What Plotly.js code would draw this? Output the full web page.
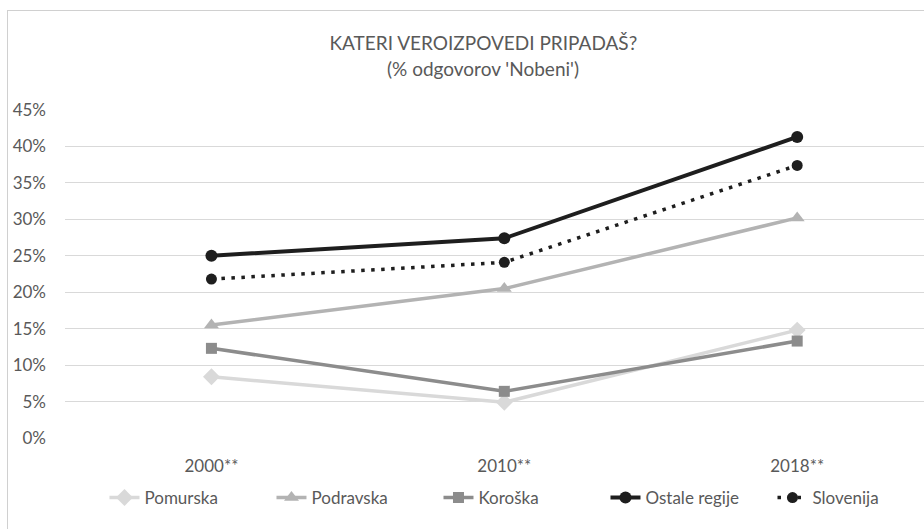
<!DOCTYPE html>
<html>
<head>
<meta charset="utf-8">
<script src="https://cdn.plot.ly/plotly-3.0.1.min.js"></script>
<style>
html,body{margin:0;padding:0;background:#fff;overflow:hidden;}
#wrap{position:relative;width:924px;height:529px;}
#chart{width:924px;height:529px;}
#frame{position:absolute;left:7px;top:10px;right:-10px;bottom:-10px;border-left:1px solid #d0d0d0;border-top:1px solid #d0d0d0;pointer-events:none;}
</style>
</head>
<body>
<div id="wrap"><div id="chart"></div><div id="frame"></div></div>
<script>
const years = ['2000**', '2010**', '2018**'];
const pomurska = [0.084, 0.049, 0.148];
const podravska = [0.155, 0.205, 0.302];
const koroska = [0.123, 0.064, 0.133];
const ostale = [0.250, 0.274, 0.413];
const slovenija = [0.218, 0.241, 0.374];
const seriesNames = ['Pomurska', 'Podravska', 'Koroška', 'Ostale regije', 'Slovenija'];
const titleLine1 = 'KATERI VEROIZPOVEDI PRIPADAŠ?';
const titleLine2 = '(% odgovorov \'Nobeni\')';

const FONT = 'Lato, "Liberation Sans", sans-serif';
const TXT = '#595959';

const traces = [
  {x: years, y: pomurska, name: seriesNames[0], mode: 'lines+markers',
   line: {color: '#d9d9d9', width: 3.5}, marker: {symbol: 'diamond', size: 13, color: '#d9d9d9'}},
  {x: years, y: podravska, name: seriesNames[1], mode: 'lines+markers',
   line: {color: '#b3b3b3', width: 3.5}, marker: {symbol: 'triangle-up', size: 13, color: '#b3b3b3'}},
  {x: years, y: koroska, name: seriesNames[2], mode: 'lines+markers',
   line: {color: '#8c8c8c', width: 3.5}, marker: {symbol: 'square', size: 11, color: '#8c8c8c'}},
  {x: years, y: ostale, name: seriesNames[3], mode: 'lines+markers',
   line: {color: '#1e1e1e', width: 4}, marker: {symbol: 'circle', size: 12, color: '#1e1e1e'}},
  {x: years, y: slovenija, name: seriesNames[4], mode: 'lines+markers',
   line: {color: '#1e1e1e', width: 3.5, dash: '3.5px,6.5px'}, marker: {symbol: 'circle', size: 11, color: '#1e1e1e'}}
];

const layout = {
  width: 924, height: 529,
  margin: {l: 64.5, r: 0, t: 110, b: 91, pad: 0, autoexpand: false},
  paper_bgcolor: '#fff', plot_bgcolor: '#fff',
  font: {family: FONT, color: TXT, size: 17},
  title: {text: titleLine1,
          font: {family: FONT, size: 19, color: TXT},
          x: 0.487, xref: 'paper', xanchor: 'center',
          y: 1 - 43/529, yref: 'container', yanchor: 'middle'},
  annotations: [{text: titleLine2, xref: 'paper', yref: 'paper', x: 0.487, y: (438 - 68) / 328,
                 xanchor: 'center', yanchor: 'middle', showarrow: false,
                 font: {family: FONT, size: 19, color: TXT}}],
  xaxis: {type: 'category', range: [-0.5, 2.433], showgrid: false, zeroline: false, showline: false,
          ticks: '', ticklabelstandoff: 16, tickfont: {family: FONT, size: 17, color: TXT}, fixedrange: true},
  yaxis: {range: [0, 0.45], dtick: 0.05, tickformat: '.0%', gridcolor: '#d9d9d9', gridwidth: 1,
          zeroline: false, showline: false, ticks: '', ticklabelstandoff: 18,
          tickfont: {family: FONT, size: 17, color: TXT}, fixedrange: true},
  showlegend: true,
  legend: {orientation: 'h', x: 0.532, xanchor: 'center', y: -0.183, yanchor: 'middle',
           font: {family: FONT, size: 17, color: TXT}, entrywidth: 122, entrywidthmode: 'pixels',
           bgcolor: 'rgba(0,0,0,0)'},
  hovermode: false
};

Plotly.newPlot('chart', traces, layout, {displayModeBar: false, staticPlot: true});
</script>
</body>
</html>
